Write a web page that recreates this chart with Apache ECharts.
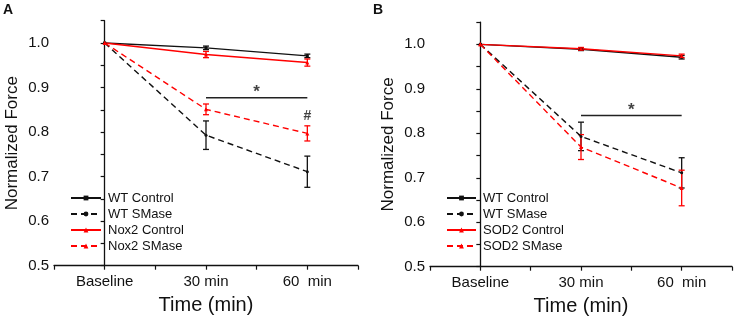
<!DOCTYPE html>
<html><head><meta charset="utf-8">
<script src="https://cdn.jsdelivr.net/npm/echarts@6/dist/echarts.min.js"></script>
<style>html,body{margin:0;padding:0;background:#fff}#c{width:737px;height:324px}</style>
</head><body><div id="c"></div>
<script>
const categories = ['Baseline', '30 min', '60  min'];
// Panel A
const wtControlA = [1.0, 0.989, 0.971];
const wtControlAErr = [0, 0.004, 0.004];
const wtSMaseA = [1.0, 0.793, 0.711];
const wtSMaseAErr = [0, 0.032, 0.035];
const nox2Control = [1.0, 0.974, 0.956];
const nox2ControlErr = [0, 0.007, 0.008];
const nox2SMase = [1.0, 0.851, 0.797];
const nox2SMaseErr = [0, 0.012, 0.017];
const sigA = 0.877;
// Panel B
const wtControlB = [1.0, 0.989, 0.971];
const wtControlBErr = [0, 0.003, 0.004];
const wtSMaseB = [1.0, 0.793, 0.711];
const wtSMaseBErr = [0, 0.032, 0.034];
const sod2Control = [1.0, 0.990, 0.974];
const sod2ControlErr = [0, 0.003, 0.004];
const sod2SMase = [1.0, 0.769, 0.677];
const sod2SMaseErr = [0, 0.028, 0.040];
const sigB = 0.840;

const BLACK = '#111';
const RED = '#ff0000';
const FONT = 'Liberation Sans, Arial, sans-serif';

const chart = echarts.init(document.getElementById('c'));

function xAxisDef(gi) {
  return {
    type: 'value', gridIndex: gi, min: -0.5, max: 2.5, interval: 0.5,
    name: 'Time (min)', nameLocation: 'middle', nameGap: 30,
    nameTextStyle: { fontSize: 20, color: BLACK, fontFamily: FONT },
    axisLine: { lineStyle: { color: BLACK, width: 1.3 } },
    axisTick: { show: true, inside: false, length: 4, lineStyle: { color: BLACK, width: 1.2 } },
    axisLabel: {
      margin: 9, fontSize: 15, color: BLACK, fontFamily: FONT,
      showMinLabel: true, showMaxLabel: true,
      formatter: v => { const i = Math.round(v); return Math.abs(v - i) < 1e-6 && i >= 0 && i < categories.length ? categories[i] : ''; }
    },
    splitLine: { show: false }
  };
}
function yAxisDef(gi) {
  return {
    type: 'value', gridIndex: gi, min: 0.5, max: 1.05, interval: 0.05,
    name: 'Normalized Force', nameLocation: 'middle', nameGap: 33,
    nameTextStyle: { fontSize: 17, color: BLACK, fontFamily: FONT },
    axisLine: { show: true, lineStyle: { color: BLACK, width: 1.3 } },
    axisTick: { show: true, inside: false, length: 4, lineStyle: { color: BLACK, width: 1.2 } },
    axisLabel: {
      margin: 5, fontSize: 15, color: BLACK, fontFamily: FONT,
      formatter: v => { const k = Math.round(v * 100); return (k % 10 === 0 && k <= 100) ? (k / 100).toFixed(1) : ''; }
    },
    splitLine: { show: false }
  };
}

function lineSeries(name, gi, vals, color, dashed, symbol, size) {
  return {
    type: 'line', name, xAxisIndex: gi, yAxisIndex: gi,
    data: vals.map((v, i) => [i, v]),
    symbol, symbolSize: size, showSymbol: true,
    lineStyle: { color, width: 1.4, type: dashed ? [6, 4] : 'solid' },
    itemStyle: { color },
    z: 4, animation: false
  };
}
function errSeries(gi, vals, errs, color) {
  return {
    type: 'custom', name: '_err', xAxisIndex: gi, yAxisIndex: gi, silent: true, z: 3,
    data: vals.map((v, i) => [i, v, errs[i]]).filter(d => d[2] > 0),
    renderItem: (params, api) => {
      const x = api.value(0), y = api.value(1), e = api.value(2);
      const t = api.coord([x, y + e]), b = api.coord([x, y - e]);
      const w = 3, st = { stroke: color, lineWidth: 1.3 };
      return { type: 'group', children: [
        { type: 'line', shape: { x1: t[0], y1: t[1], x2: b[0], y2: b[1] }, style: st },
        { type: 'line', shape: { x1: t[0] - w, y1: t[1], x2: t[0] + w, y2: t[1] }, style: st },
        { type: 'line', shape: { x1: b[0] - w, y1: b[1], x2: b[0] + w, y2: b[1] }, style: st }
      ]};
    },
    animation: false
  };
}
function sigSeries(gi, level) {
  return [
    { type: 'line', name: '_sig', xAxisIndex: gi, yAxisIndex: gi, data: [[1, level], [2, level]],
      symbol: 'none', lineStyle: { color: '#222', width: 1.4 }, z: 2, animation: false, silent: true },
    { type: 'scatter', name: '_star', xAxisIndex: gi, yAxisIndex: gi, data: [[1.5, level]], symbolSize: 0,
      label: { show: true, formatter: '*', position: 'top', distance: -3, fontSize: 17, fontWeight: 'bold', color: BLACK, fontFamily: FONT },
      silent: true, animation: false }
  ];
}
function legendDef(left, width, names) {
  return {
    orient: 'vertical', left, top: 191, padding: 0, itemWidth: width, itemHeight: 6, itemGap: 2,
    data: names, selectedMode: false,
    textStyle: { fontSize: 13, color: BLACK, fontFamily: FONT, lineHeight: 14, padding: [0, 0, 0, 2] }
  };
}

const option = {
  animation: false,
  textStyle: { fontFamily: FONT },
  title: [
    { text: 'A', left: 3, top: 3, padding: 0, textStyle: { fontSize: 14, fontWeight: 'bold', color: BLACK, fontFamily: FONT } },
    { text: 'B', left: 373, top: 3, padding: 0, textStyle: { fontSize: 14, fontWeight: 'bold', color: BLACK, fontFamily: FONT } }
  ],
  grid: [
    { left: 54, width: 304, top: 20.7, bottom: 58.3, containLabel: false },
    { left: 430, width: 302, top: 22.1, bottom: 57.3, containLabel: false }
  ],
  xAxis: [xAxisDef(0), xAxisDef(1)],
  yAxis: [yAxisDef(0), yAxisDef(1)],
  legend: [
    legendDef(70, 30, ['WT Control', 'WT SMase', 'Nox2 Control', 'Nox2 SMase']),
    legendDef(446, 29, ['WT Control', 'WT SMase', 'SOD2 Control', 'SOD2 SMase'])
  ],
  series: [
    errSeries(0, wtControlA, wtControlAErr, BLACK),
    errSeries(0, wtSMaseA, wtSMaseAErr, BLACK),
    errSeries(0, nox2Control, nox2ControlErr, RED),
    errSeries(0, nox2SMase, nox2SMaseErr, RED),
    lineSeries('WT Control', 0, wtControlA, BLACK, false, 'rect', 3),
    lineSeries('WT SMase', 0, wtSMaseA, BLACK, true, 'circle', 3),
    lineSeries('Nox2 Control', 0, nox2Control, RED, false, 'triangle', 4),
    lineSeries('Nox2 SMase', 0, nox2SMase, RED, true, 'triangle', 4),
    ...sigSeries(0, sigA),
    { type: 'scatter', name: '_hash', xAxisIndex: 0, yAxisIndex: 0,
      data: [[2, nox2SMase[2] + nox2SMaseErr[2]]], symbolSize: 0,
      label: { show: true, formatter: '#', position: 'top', distance: 3, fontSize: 14, fontWeight: 'bold', color: BLACK, fontFamily: FONT },
      silent: true, animation: false },
    errSeries(1, wtControlB, wtControlBErr, BLACK),
    errSeries(1, wtSMaseB, wtSMaseBErr, BLACK),
    errSeries(1, sod2Control, sod2ControlErr, RED),
    errSeries(1, sod2SMase, sod2SMaseErr, RED),
    lineSeries('WT Control', 1, wtControlB, BLACK, false, 'rect', 3),
    lineSeries('WT SMase', 1, wtSMaseB, BLACK, true, 'circle', 3),
    lineSeries('SOD2 Control', 1, sod2Control, RED, false, 'triangle', 4),
    lineSeries('SOD2 SMase', 1, sod2SMase, RED, true, 'triangle', 4),
    ...sigSeries(1, sigB)
  ]
};
chart.setOption(option);
</script>
</body></html>
